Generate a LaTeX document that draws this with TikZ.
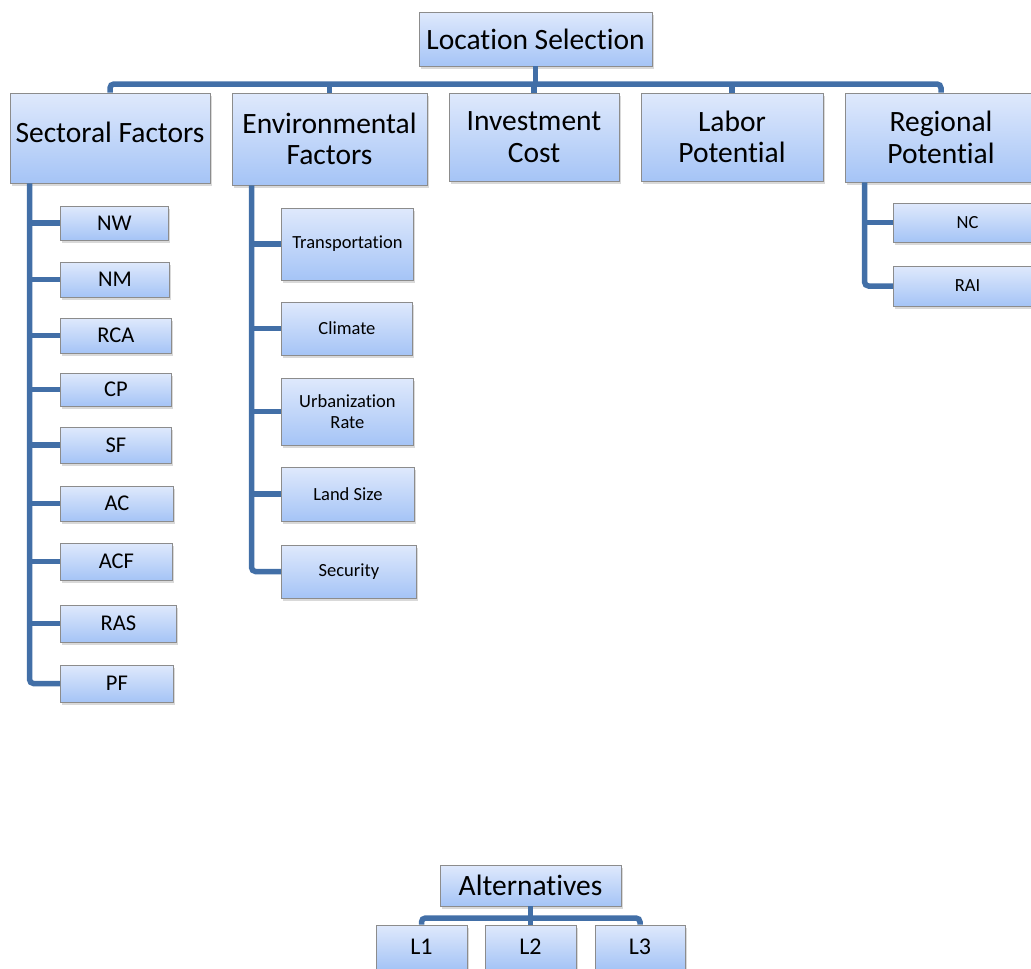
\documentclass[tikz,border=0pt]{standalone}
\usepackage{fontspec}
\setmainfont{Carlito}[Ligatures=NoCommon]
\usetikzlibrary{calc, shadows}
\definecolor{linkblue}{RGB}{66,111,167}
\definecolor{boxedge}{RGB}{140,140,140}
\definecolor{boxtop}{RGB}{223,233,252}
\definecolor{boxbot}{RGB}{165,196,246}

\begin{document}
\begin{tikzpicture}[x=1pt, y=-1pt,
  critbox/.style={draw=boxedge, line width=0.9pt, top color=boxtop, bottom color=boxbot, align=center, inner sep=0pt,
    drop shadow={opacity=0.3, shadow xshift=2pt, shadow yshift=-2.5pt}},
  mainbox/.style={critbox, font=\fontsize{29.5}{31.5}\selectfont},
  subbox/.style={critbox, anchor=west, font=\fontsize{22.5}{26}\selectfont},
  smallbox/.style={critbox, anchor=west, font=\fontsize{18.5}{21.5}\selectfont},
  link/.style={draw=linkblue, line width=5.5pt, rounded corners=4pt}]
  \useasboundingbox (0,0) rectangle (1031,969);

  \node[mainbox, minimum width=233pt, minimum height=54pt] (root) at (535.5,39) {Location Selection};
  \node[mainbox, minimum width=200pt, minimum height=90pt, text depth=12pt] (sectoral) at (110,138) {Sectoral Factors};
  \node[mainbox, minimum width=195pt, minimum height=92pt] (environmental) at (329.5,139) {Environmental\\Factors};
  \node[mainbox, minimum width=170pt, minimum height=88pt] (investment) at (534,137) {Investment\\Cost};
  \node[mainbox, minimum width=182pt, minimum height=88pt] (labor) at (732,137) {Labor\\Potential};
  \node[mainbox, minimum width=192pt, minimum height=89pt] (regional) at (941,137.5) {Regional\\Potential};

  \node[subbox, minimum width=108pt, minimum height=34pt] (nw) at (60,223) {NW};
  \node[subbox, minimum width=109pt, minimum height=35pt] (nm) at (60,279.5) {NM};
  \node[subbox, minimum width=111pt, minimum height=35pt] (rca) at (60,335.5) {RCA};
  \node[subbox, minimum width=111pt, minimum height=33pt] (cp) at (60,389.5) {CP};
  \node[subbox, minimum width=111pt, minimum height=36pt] (sf) at (60,445) {SF};
  \node[subbox, minimum width=113pt, minimum height=35pt] (ac) at (60,503.5) {AC};
  \node[subbox, minimum width=112pt, minimum height=37pt] (acf) at (60,561.5) {ACF};
  \node[subbox, minimum width=116pt, minimum height=37pt] (ras) at (60,623.5) {RAS};
  \node[subbox, minimum width=113pt, minimum height=37pt] (pf) at (60,683.5) {PF};

  \node[smallbox, minimum width=132pt, minimum height=72pt] (transport) at (281,244) {Transportation};
  \node[smallbox, minimum width=131pt, minimum height=53pt] (climate) at (281,328.5) {Climate};
  \node[smallbox, minimum width=132pt, minimum height=67pt] (urban) at (281,411.5) {Urbanization\\Rate};
  \node[smallbox, minimum width=133pt, minimum height=54pt] (land) at (281,494) {Land Size};
  \node[smallbox, minimum width=135pt, minimum height=53pt] (security) at (281,571.5) {Security};

  \node[smallbox, minimum width=148pt, minimum height=39pt] (nc) at (893,222.5) {NC};
  \node[smallbox, minimum width=148pt, minimum height=40pt] (rai) at (893,286) {RAI};

  \node[mainbox, minimum width=181pt, minimum height=41pt] (alternatives) at (530.5,885.5) {Alternatives};
  \node[critbox, minimum width=91pt, minimum height=44pt, font=\fontsize{24}{28}\selectfont] (l1) at (421.5,947) {L1};
  \node[critbox, minimum width=91pt, minimum height=44pt, font=\fontsize{24}{28}\selectfont] (l2) at (530.5,947) {L2};
  \node[critbox, minimum width=90pt, minimum height=44pt, font=\fontsize{24}{28}\selectfont] (l3) at (640,947) {L3};

  \coordinate (bar) at (535,84);
  \draw[link] (root.south) -- (root.south |- bar);
  \draw[link] (sectoral.north) |- (bar) -| (regional.north);
  \foreach \n in {environmental, investment, labor}
    \draw[link] (\n.north) -- (\n.north |- bar);

  \coordinate (sectspine) at ($(sectoral.south west)+(20,0)$);
  \draw[link] (sectspine) |- (pf.west);
  \foreach \n in {nw, nm, rca, cp, sf, ac, acf, ras}
    \draw[link] (\n.west) -- (\n.west -| sectspine);

  \coordinate (envspine) at ($(environmental.south west)+(20,0)$);
  \draw[link] (envspine) |- (security.west);
  \foreach \n in {transport, climate, urban, land}
    \draw[link] (\n.west) -- (\n.west -| envspine);

  \coordinate (regspine) at ($(regional.south west)+(20,0)$);
  \draw[link] (regspine) |- (rai.west);
  \draw[link] (nc.west) -- (nc.west -| regspine);

  \coordinate (altbar) at (531,918);
  \draw[link] (alternatives.south) -- (alternatives.south |- altbar);
  \draw[link] (l1.north) |- (altbar) -| (l3.north);
  \draw[link] (l2.north) -- (l2.north |- altbar);
\end{tikzpicture}
\end{document}
